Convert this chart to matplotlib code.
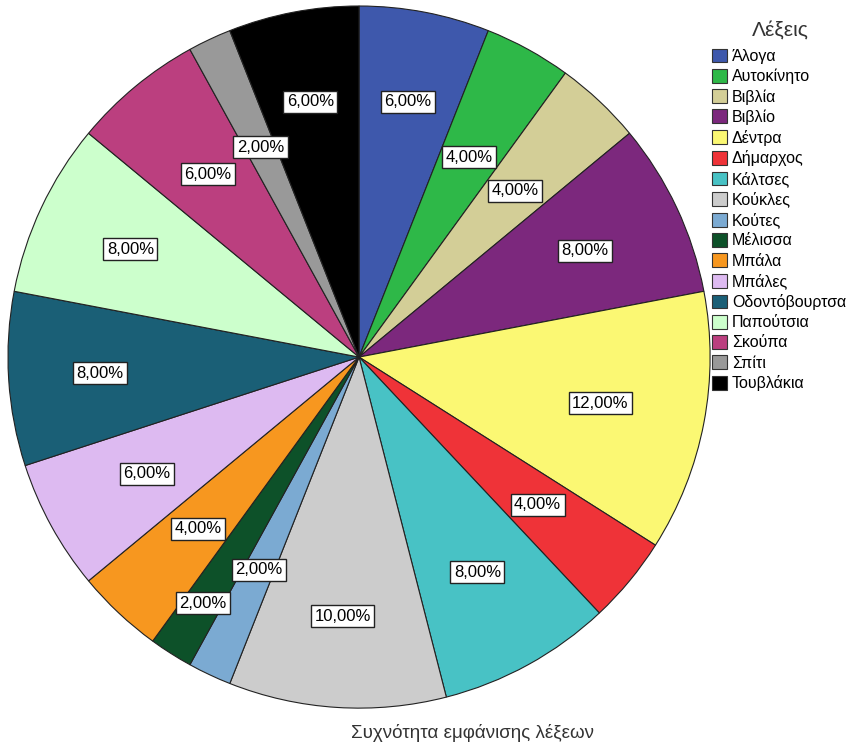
import matplotlib
matplotlib.use("Agg")
import numpy as np
import matplotlib.pyplot as plt

# word frequencies (%)
words = ["Άλογα", "Αυτοκίνητο", "Βιβλία", "Βιβλίο", "Δέντρα", "Δήμαρχος",
         "Κάλτσες", "Κούκλες", "Κούτες", "Μέλισσα", "Μπάλα", "Μπάλες",
         "Οδοντόβουρτσα", "Παπούτσια", "Σκούπα", "Σπίτι", "Τουβλάκια"]
percent = [6, 4, 4, 8, 12, 4, 8, 10, 2, 2, 4, 6, 8, 8, 6, 2, 6]
colors = ["#3E58AC", "#2EB848", "#D3CE97", "#7C287D", "#FBF873", "#EF3338",
          "#48C2C5", "#CCCCCC", "#7BAAD2", "#0D5129", "#F7971F", "#DDBAF1",
          "#1A5F76", "#CCFFCC", "#BB3F7F", "#999999", "#000000"]
# radial position of each value label (fraction of radius)
label_r = [0.74, 0.65, 0.65, 0.71, 0.70, 0.66, 0.70, 0.74, 0.67,
           0.83, 0.67, 0.69, 0.74, 0.72, 0.675, 0.66, 0.74]

plt.rcParams['font.family'] = ['Liberation Sans', 'DejaVu Sans']

fig = plt.figure(figsize=(8.49, 7.47), dpi=100)
ax = fig.add_axes([0.0094, 0.052, 0.827, 0.94])

wedges, _ = ax.pie(percent, colors=colors, startangle=90, counterclock=False,
                   wedgeprops=dict(edgecolor="#222222", linewidth=0.8))
ax.set_xlim(-1, 1)
ax.set_ylim(-1, 1)
ax.set_aspect("equal")

for w, p, r in zip(wedges, percent, label_r):
    ang = np.deg2rad((w.theta1 + w.theta2) / 2)
    ax.text(r * np.cos(ang), r * np.sin(ang), f"{p:.2f}%".replace(".", ","),
            ha="center", va="center", fontsize=12,
            bbox=dict(facecolor="white", edgecolor="#222222", linewidth=1.0,
                      pad=2.5))

leg = fig.legend(wedges, words, loc="upper left",
                 bbox_to_anchor=(0.8386, 0.935), frameon=False,
                 fontsize=11.5, handlelength=0.95, handleheight=0.95,
                 handletextpad=0.3, labelspacing=0.3, borderaxespad=0,
                 borderpad=0)
for h in leg.legend_handles:
    h.set_edgecolor("#333333")
    h.set_linewidth(0.8)

fig.text(0.919, 0.96, "Λέξεις", ha="center", va="center",
         fontsize=15, color="#333333")

fig.text(0.557, 0.019, "Συχνότητα εμφάνισης λέξεων", ha="center", va="center",
         fontsize=13.5, color="#333333")

fig.savefig("out.png", dpi=100)
